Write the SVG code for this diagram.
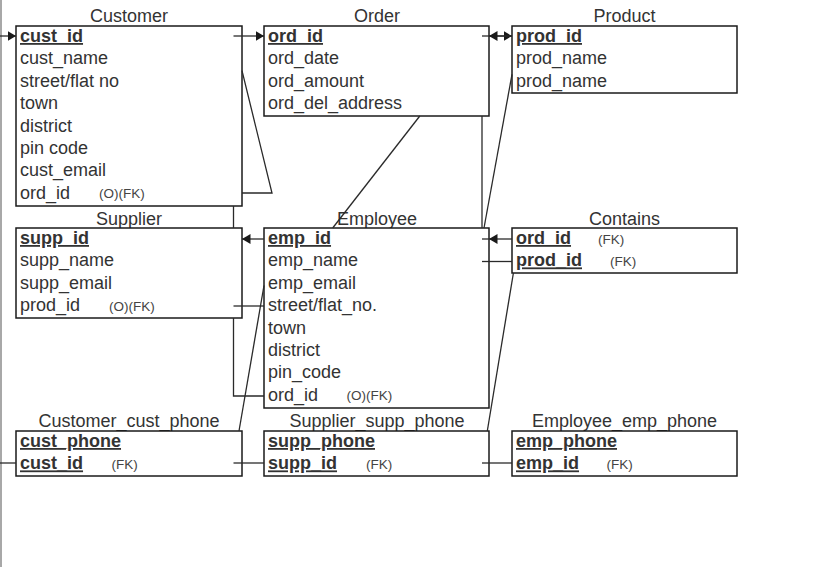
<svg xmlns="http://www.w3.org/2000/svg" width="835" height="567" viewBox="0 0 835 567">
<defs>
<style>
.box{fill:#fff;stroke:#1a1a1a;stroke-width:1.5}
.t{font-family:"Liberation Sans",Arial,sans-serif;font-size:18px;fill:#333}
.title{font-family:"Liberation Sans",Arial,sans-serif;font-size:18px;fill:#333;text-anchor:middle}
.k{font-weight:bold;text-decoration:underline}
.s{font-family:"Liberation Sans",Arial,sans-serif;font-size:13.5px;fill:#444}
.c{fill:none;stroke:#2a2a2a;stroke-width:1.3}
</style>
<marker id="ah" markerUnits="userSpaceOnUse" markerWidth="9" markerHeight="11" refX="8.5" refY="5.5" orient="auto">
<path d="M0,0.5 L8.5,5.5 L0,10.5 z" fill="#1a1a1a"/>
</marker>
</defs>
<rect width="835" height="567" fill="#fff"/>
<line x1="1" y1="0" x2="1" y2="567" stroke="#a8a8a8" stroke-width="2"/>

<g id="Customer">
<text class="title" x="129" y="22">Customer</text>
<rect class="box" x="16" y="26" width="226" height="180"/>
<text class="t k" x="20" y="42">cust_id</text>
<text class="t" x="20" y="64.4">cust_name</text>
<text class="t" x="20" y="86.8">street/flat no</text>
<text class="t" x="20" y="109.2">town</text>
<text class="t" x="20" y="131.6">district</text>
<text class="t" x="20" y="154">pin code</text>
<text class="t" x="20" y="176.4">cust_email</text>
<text class="t" x="20" y="198.8">ord_id</text>
<text class="s" x="99" y="198">(O)(FK)</text>
</g>

<g id="Order">
<text class="title" x="377" y="22">Order</text>
<rect class="box" x="264" y="26" width="225" height="90"/>
<text class="t k" x="268" y="42">ord_id</text>
<text class="t" x="268" y="64.4">ord_date</text>
<text class="t" x="268" y="86.8">ord_amount</text>
<text class="t" x="268" y="109.2">ord_del_address</text>
</g>

<g id="Product">
<text class="title" x="624.5" y="22">Product</text>
<rect class="box" x="512" y="26" width="225" height="67"/>
<text class="t k" x="516" y="42">prod_id</text>
<text class="t" x="516" y="64.4">prod_name</text>
<text class="t" x="516" y="86.8">prod_name</text>
</g>

<g id="Supplier">
<text class="title" x="129" y="224.5">Supplier</text>
<rect class="box" x="16" y="228" width="226" height="90"/>
<text class="t k" x="20" y="244">supp_id</text>
<text class="t" x="20" y="266.4">supp_name</text>
<text class="t" x="20" y="288.8">supp_email</text>
<text class="t" x="20" y="311.2">prod_id</text>
<text class="s" x="109" y="310.5">(O)(FK)</text>
</g>

<g id="Employee">
<text class="title" x="377" y="224.5">Employee</text>
<rect class="box" x="264" y="228" width="225" height="180"/>
<text class="t k" x="268" y="244">emp_id</text>
<text class="t" x="268" y="266.4">emp_name</text>
<text class="t" x="268" y="288.8">emp_email</text>
<text class="t" x="268" y="311.2">street/flat_no.</text>
<text class="t" x="268" y="333.6">town</text>
<text class="t" x="268" y="356">district</text>
<text class="t" x="268" y="378.4">pin_code</text>
<text class="t" x="268" y="400.8">ord_id</text>
<text class="s" x="346.5" y="400">(O)(FK)</text>
</g>

<g id="Contains">
<text class="title" x="624.5" y="224.5">Contains</text>
<rect class="box" x="512" y="228" width="225" height="45"/>
<text class="t k" x="516" y="244">ord_id</text>
<text class="s" x="598" y="243.5">(FK)</text>
<text class="t k" x="516" y="266.4">prod_id</text>
<text class="s" x="610" y="266">(FK)</text>
</g>

<g id="Customer_cust_phone">
<text class="title" x="129" y="427">Customer_cust_phone</text>
<rect class="box" x="16" y="431" width="226" height="45"/>
<text class="t k" x="20" y="447">cust_phone</text>
<text class="t k" x="20" y="469.4">cust_id</text>
<text class="s" x="111.5" y="469">(FK)</text>
</g>

<g id="Supplier_supp_phone">
<text class="title" x="377" y="427">Supplier_supp_phone</text>
<rect class="box" x="264" y="431" width="225" height="45"/>
<text class="t k" x="268" y="447">supp_phone</text>
<text class="t k" x="268" y="469.4">supp_id</text>
<text class="s" x="366" y="469">(FK)</text>
</g>

<g id="Employee_emp_phone">
<text class="title" x="624.5" y="427">Employee_emp_phone</text>
<rect class="box" x="512" y="431" width="225" height="45"/>
<text class="t k" x="516" y="447">emp_phone</text>
<text class="t k" x="516" y="469.4">emp_id</text>
<text class="s" x="606.5" y="469">(FK)</text>
</g>

<g id="connectors">
<line class="c" x1="0" y1="36" x2="16" y2="36" marker-end="url(#ah)"/>
<line class="c" x1="0" y1="463" x2="16" y2="463"/>
<line class="c" x1="233.5" y1="36" x2="264" y2="36" marker-end="url(#ah)"/>
<polyline class="c" points="242,193 272,193 242,70.7"/>
<polyline class="c" points="264,396 233.5,396 233.5,318"/>
<line class="c" x1="233.5" y1="206" x2="233.5" y2="228"/>
<line class="c" x1="233.5" y1="306" x2="264" y2="306"/>
<line class="c" x1="332.7" y1="228" x2="419.8" y2="116"/>
<line class="c" x1="482" y1="36" x2="512" y2="36" marker-end="url(#ah)"/>
<line class="c" x1="233.5" y1="463" x2="264" y2="463"/>
<line class="c" x1="239" y1="431" x2="264" y2="285.5"/>
<line class="c" x1="264" y1="239" x2="242" y2="239" marker-end="url(#ah)"/>
<line class="c" x1="482" y1="463" x2="512" y2="463"/>
<line class="c" x1="487.3" y1="431" x2="513.4" y2="273"/>
<line class="c" x1="512" y1="239" x2="489" y2="239" marker-end="url(#ah)"/>
<line class="c" x1="482" y1="239" x2="489" y2="239"/>
<line class="c" x1="484" y1="228" x2="512" y2="74.4"/>
<line class="c" x1="512" y1="36" x2="489" y2="36" marker-end="url(#ah)"/>
<line class="c" x1="482" y1="261.5" x2="512" y2="261.5"/>
<line class="c" x1="482" y1="228" x2="482" y2="116"/>
</g>
</svg>
